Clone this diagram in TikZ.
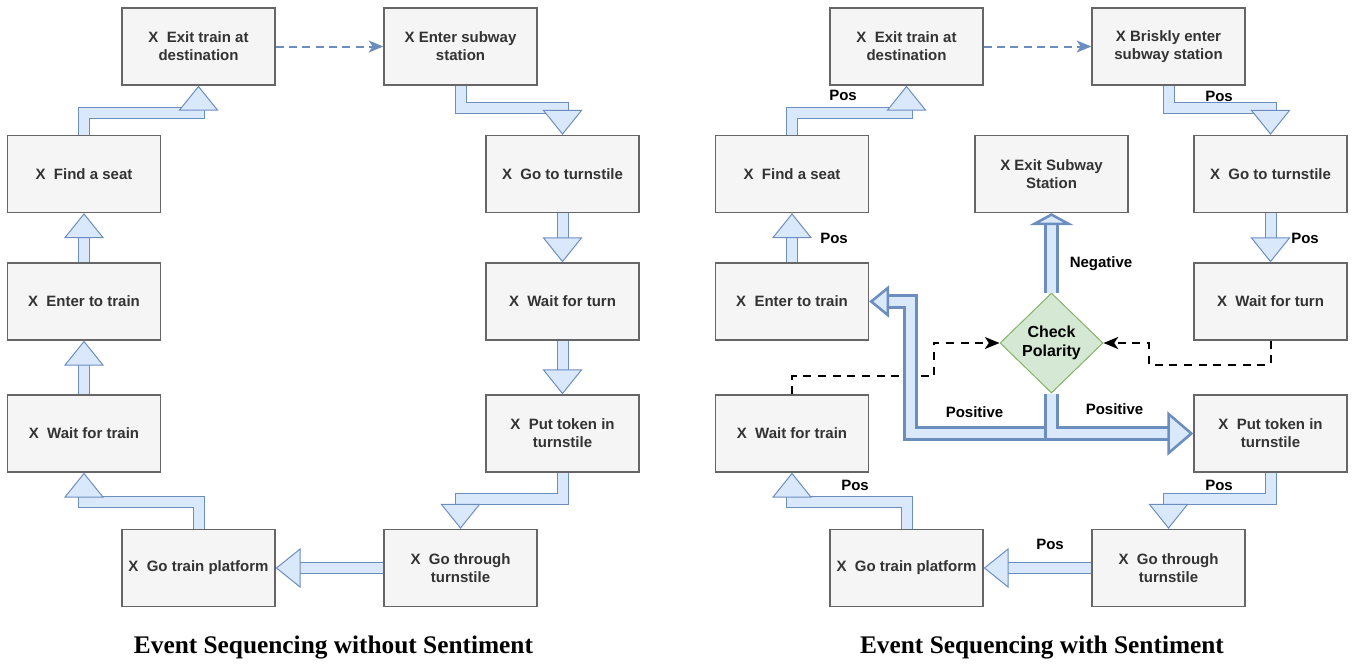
\documentclass[tikz,border=0pt]{standalone}
\usepackage{fontspec}
\setsansfont{Liberation Sans}
\newfontfamily\capfont{Liberation Serif}
\usepackage{tikz}
\usetikzlibrary{arrows.meta,calc,shapes.geometric}
\definecolor{evfill}{HTML}{F5F5F5}
\definecolor{evline}{HTML}{666666}
\definecolor{evtext}{HTML}{333333}
\definecolor{arfill}{HTML}{DAE8FC}
\definecolor{arline}{HTML}{6C8EBF}
\definecolor{polfill}{HTML}{D5E8D4}
\definecolor{polline}{HTML}{82B366}
\tikzstyle{ev}=[rectangle, draw=evline, line width=1pt, fill=evfill, text=evtext, minimum width=114.75pt, minimum height=57.75pt,
        inner sep=0pt, align=center, font=\sffamily\bfseries\fontsize{11.25}{13.5}\selectfont]
\tikzstyle{pol}=[diamond, aspect=1, draw=polline, line width=0.75pt, fill=polfill, minimum width=77.25pt, minimum height=75pt,
        inner sep=0pt, align=center, font=\sffamily\bfseries\fontsize{12}{14.5}\selectfont]
\tikzstyle{lbl}=[inner sep=0pt, font=\sffamily\bfseries\fontsize{11.25}{13.5}\selectfont]
\tikzstyle{ttl}=[inner sep=0pt, font=\capfont\bfseries\fontsize{19}{22}\selectfont]
\tikzstyle{flex}=[draw=arline, line width=0.75pt, double=arfill, double distance=7.5pt,
        -{Triangle[length=18.75pt, width=30pt, line width=0.75pt, fill=arfill]}]
\tikzstyle{flexb}=[draw=arline, line width=1.9pt, double=arfill, double distance=7.2pt]
\tikzstyle{dash1}=[arline, line width=1.5pt, dash pattern=on 6pt off 4pt, -{Stealth[length=11pt, width=9pt, inset=3pt]}]
\tikzstyle{dash2}=[black, line width=1.5pt, dash pattern=on 6pt off 5pt, -{Stealth[length=11pt, width=9pt, inset=3pt]}]

\begin{document}
\begin{tikzpicture}[x=0.75pt, y=-0.75pt]
\useasboundingbox (0,0) rectangle (1355,664);

\node [ev] (lexit) at (198.5,46.5) {X\ \ Exit train at\\destination};
\node [ev] (lsub) at (460.5,46.5) {X Enter subway\\station};
\node [ev] (lturn) at (562.5,174) {X\ \ Go to turnstile};
\node [ev] (lwait) at (562.5,301.5) {X\ \ Wait for turn};
\node [ev] (ltoken) at (562.5,433.5) {X\ \ Put token in\\turnstile};
\node [ev] (lthru) at (460.5,568) {X\ \ Go through\\turnstile};
\node [ev] (lplat) at (198.5,568) {X\ \ Go train platform};
\node [ev] (lwtrain) at (84,433.5) {X\ \ Wait for train};
\node [ev] (lenter) at (84,301.5) {X\ \ Enter to train};
\node [ev] (lseat) at (84,174) {X\ \ Find a seat};

\draw [flex] (lseat.north) |- ($(lexit.south)+(0,27)$) -- (lexit.south);
\draw [dash1] (lexit.east) -- (lsub.west);
\draw [flex] (lsub.south) |- ($(lturn.north)+(0,-27)$) -- (lturn.north);
\draw [flex] (lturn.south) -- (lwait.north);
\draw [flex] (lwait.south) -- (ltoken.north);
\draw [flex] (ltoken.south) |- ($(lthru.north)+(0,-29.5)$) -- (lthru.north);
\draw [flex] (lthru.west) -- (lplat.east);
\draw [flex] (lplat.north) |- ($(lwtrain.south)+(0,29.5)$) -- (lwtrain.south);
\draw [flex] (lwtrain.north) -- (lenter.south);
\draw [flex] (lenter.north) -- (lseat.south);

\node [ev] (rexit) at (906.5,46.5) {X\ \ Exit train at\\destination};
\node [ev] (rsub) at (1168.5,46.5) {X Briskly enter\\subway station};
\node [ev] (rturn) at (1270.5,174) {X\ \ Go to turnstile};
\node [ev] (rwait) at (1270.5,301.5) {X\ \ Wait for turn};
\node [ev] (rtoken) at (1270.5,433.5) {X\ \ Put token in\\turnstile};
\node [ev] (rthru) at (1168.5,568) {X\ \ Go through\\turnstile};
\node [ev] (rplat) at (906.5,568) {X\ \ Go train platform};
\node [ev] (rwtrain) at (792,433.5) {X\ \ Wait for train};
\node [ev] (renter) at (792,301.5) {X\ \ Enter to train};
\node [ev] (rseat) at (792,174) {X\ \ Find a seat};
\node [ev] (rleave) at (1051.5,174) {X Exit Subway\\Station};
\node [pol] (chk) at (1051.5,343) {Check\\Polarity};

\draw [flex] (rseat.north) |- ($(rexit.south)+(0,27)$) -- (rexit.south);
\draw [dash1] (rexit.east) -- (rsub.west);
\draw [flex] (rsub.south) |- ($(rturn.north)+(0,-27)$) -- (rturn.north);
\draw [flex] (rturn.south) -- (rwait.north);
\draw [flex] (rtoken.south) |- ($(rthru.north)+(0,-29.5)$) -- (rthru.north);
\draw [flex] (rthru.west) -- (rplat.east);
\draw [flex] (rplat.north) |- ($(rwtrain.south)+(0,29.5)$) -- (rwtrain.south);
\draw [flex] (renter.north) -- (rseat.south);
\draw [dash2] (rwait.south) -- ++(0,24) -| ($(chk.east)+(45,0)$) -- (chk.east);
\draw [dash2] (rwtrain.north) -- ++(0,-18) -| ($(chk.west)+(-66,0)$) -- (chk.west);
\draw [flexb, -{Triangle[length=9pt, width=33pt, line width=1.9pt, fill=arfill]}] (chk.north) -- (rleave.south);
\draw [flexb, -{Triangle[length=15pt, width=24pt, line width=1.9pt, fill=arfill]}] (chk.south) -- ++(0,40) -| ($(renter.east)+(41.5,0)$) -- (renter.east);
\draw [flexb, -{Triangle[length=19.5pt, width=33pt, line width=1.9pt, fill=arfill]}] (chk.south) |- (rtoken.west);

\node [lbl] at (843,95) {Pos};
\node [lbl] at (1219,96) {Pos};
\node [lbl] at (834,238) {Pos};
\node [lbl] at (1305,238) {Pos};
\node [lbl] at (1101,264) {Negative};
\node [lbl] at (974.5,412) {Positive};
\node [lbl] at (1114.5,409) {Positive};
\node [lbl] at (1219,485) {Pos};
\node [lbl] at (855,485) {Pos};
\node [lbl] at (1050,544) {Pos};

\node [ttl] at (333.5,647) {Event Sequencing without Sentiment};
\node [ttl] at (1042,647) {Event Sequencing with Sentiment};
\end{tikzpicture}
\end{document}
